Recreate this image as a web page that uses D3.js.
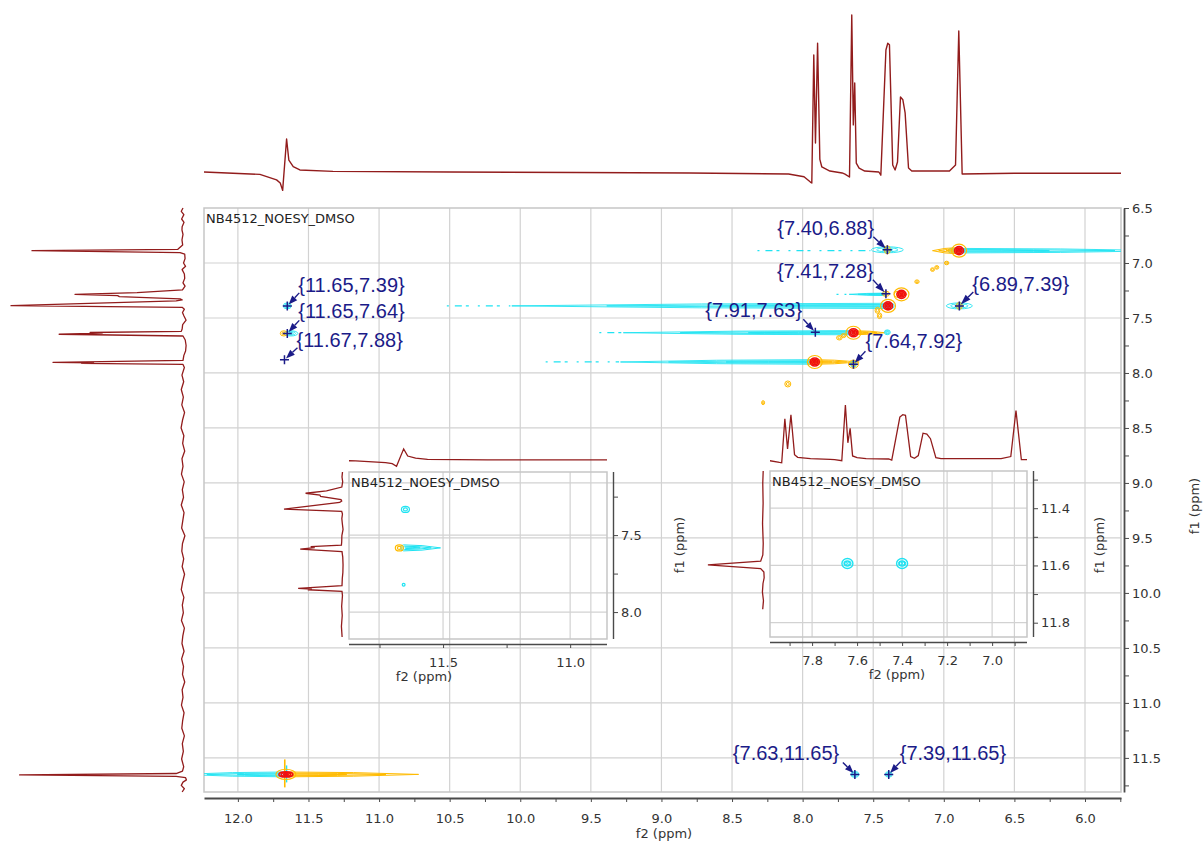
<!DOCTYPE html>
<html>
<head>
<meta charset="utf-8">
<script src="https://cdn.jsdelivr.net/npm/d3@7"></script>
<style>
  body { margin: 0; background: #fff; }
  svg { display: block; }
</style>
</head>
<body>
<svg id="chart" width="1204" height="841"></svg>
<script>
// ---------------- data ----------------
const title = "NB4512_NOESY_DMSO";

// axis ticks (ppm)
const f2Ticks = d3.range(0, 26).map(i => +(12.0 - i * 0.25).toFixed(2));   // 12.00 ... 5.75
const f2Majors = [12.0, 11.5, 11.0, 10.5, 10.0, 9.5, 9.0, 8.5, 8.0, 7.5, 7.0, 6.5, 6.0];
const f1Ticks = d3.range(0, 22).map(i => +(6.5 + i * 0.25).toFixed(2));    // 6.50 ... 11.75
const f1Majors = [6.5, 7.0, 7.5, 8.0, 8.5, 9.0, 9.5, 10.0, 10.5, 11.0, 11.5];

// 1D projection along f2 (top): [ppm, intensity]
const f2Trace = [
  [12.24, 0], [11.844, -1.5], [11.726, -5], [11.70, -7], [11.683, -11.7], [11.655, 21],
  [11.639, 7.5], [11.608, 3.4], [11.561, 1.3], [11.327, 0.4], [10.5, 0], [9.6, -0.3],
  [8.8, -0.6], [8.10, -1.3], [7.99, -3], [7.945, -6.4], [7.935, -7], [7.921, 74.5],
  [7.909, 18.5], [7.894, 82], [7.878, 8], [7.864, 3.2], [7.807, 0.6], [7.72, -0.6],
  [7.70, -1.3], [7.668, -3.2], [7.652, 100], [7.641, 30], [7.631, 56.7], [7.62, 5.7],
  [7.60, 2.5], [7.56, 0.6], [7.46, 0], [7.446, -2], [7.41, 77.7], [7.397, 82], [7.385, 81],
  [7.362, 4.5], [7.345, 1.3], [7.328, 6.4], [7.307, 47.8], [7.29, 46], [7.274, 37.6],
  [7.25, 2.5], [7.227, 0.6], [6.96, 0.6], [6.917, 4.5], [6.894, 89.8], [6.87, -1.3],
  [6.5, -0.8], [5.745, -0.8]
];

// 1D projection along f1 (left): [ppm, intensity]
const f1Trace = [
  [6.50, 0], [6.53, 1], [6.56, -0.5], [6.60, 0.8], [6.63, -0.6], [6.67, 0.5], [6.70, 0.6],
  [6.74, 0.0], [6.79, 0.6], [6.836, 0.2], [6.876, 3], [6.888, 87.8], [6.906, 1.7], [6.92, -1],
  [6.96, -1.2], [7.0, -0.3], [7.03, -1.5], [7.06, 0.5], [7.10, -0.8], [7.14, -1], [7.18, 0],
  [7.21, -1.2], [7.245, 0.3], [7.27, 26.7], [7.285, 62.8], [7.297, 38], [7.306, 37],
  [7.327, 1.7], [7.336, 0.5], [7.345, 4], [7.388, 100], [7.403, 0.5], [7.42, -0.8],
  [7.45, 0.3], [7.48, -0.5], [7.52, -1.8], [7.56, 0.2], [7.60, 0.5], [7.622, 1],
  [7.632, 54], [7.638, 47], [7.648, 72], [7.664, 0], [7.70, -1.3], [7.75, -1.8],
  [7.80, -1.5], [7.84, -0.5], [7.886, 0], [7.903, 75.6], [7.908, 52], [7.912, 59],
  [7.922, 0], [7.95, -0.8], [8.02, 0.6], [8.08, -0.4], [8.15, 1.0], [8.22, -0.2],
  [8.29, 0.7], [8.36, -0.9], [8.43, 0.3], [8.50, 1.1], [8.57, -0.5], [8.64, 0.2],
  [8.71, -1.0], [8.78, 0.6], [8.85, 0.0], [8.92, 0.9], [8.99, -0.7], [9.06, 0.4],
  [9.13, -0.3], [9.20, 1.0], [9.27, -0.6], [9.34, 0.1], [9.41, 0.8], [9.48, -1.1],
  [9.55, 0.3], [9.62, 0.7], [9.69, -0.4], [9.76, 0.5], [9.83, -0.9], [9.90, 0.2],
  [9.97, 1.0], [10.04, -0.5], [10.11, 0.4], [10.18, -0.2], [10.25, 0.9], [10.32, -0.8],
  [10.39, 0.1], [10.46, 0.6], [10.53, -0.6], [10.60, 0.8], [10.67, -0.3], [10.74, 0.3],
  [10.81, -1.0], [10.88, 0.5], [10.95, 0.0], [11.02, 0.9], [11.09, -0.6], [11.16, 0.2],
  [11.23, 0.7], [11.30, -0.8], [11.37, 0.4], [11.44, -0.2], [11.51, 0.8], [11.58, -0.4],
  [11.62, 0.3], [11.642, 4], [11.655, 95], [11.668, 4], [11.68, -1.5], [11.70, -2],
  [11.72, 0], [11.75, 1], [11.78, -0.8], [11.81, 0.5]
];

// annotated cross peaks {f2,f1}
const peakF2 = [7.40, 7.41, 6.89, 7.91, 7.64, 11.65, 11.65, 11.67, 7.63, 7.39];
const peakF1 = [6.88, 7.28, 7.39, 7.63, 7.92, 7.39, 7.64, 7.88, 11.65, 11.65];

// diagonal peaks
const diagF2 = [6.892, 7.300, 7.395, 7.640, 7.914, 11.660];
const diagF1 = [6.888, 7.285, 7.390, 7.634, 7.900, 11.650];

// negative (cyan) t1 ridges: row f1, far end f2, peak-side end f2
const ridgeF1   = [6.888, 7.285, 7.390, 7.634, 7.900, 11.650];
const ridgeFar  = [5.40, 7.67, 10.06, 9.27, 9.29, 12.40];
const ridgeNear = [6.95, 7.42, 7.37, 7.66, 7.93, 11.68];

// faint broken continuation of the ridges
const dashF1   = [6.888, 7.285, 7.390, 7.634, 7.900];
const dashFrom = [8.32, 7.76, 10.52, 9.44, 9.82];
const dashTo   = [7.52, 7.69, 10.07, 9.27, 9.30];

// positive (orange) t1 tails
const tailF1   = [6.888, 7.634, 7.900, 11.650, 7.285];
const tailFrom = [6.905, 7.63, 7.95, 11.645, 7.33];
const tailTo   = [7.08, 7.42, 7.60, 10.72, 7.26];

// negative cross-peak contours
const negF2 = [7.40, 6.89, 11.65, 11.625, 7.63, 7.39, 7.40, 7.64];
const negF1 = [6.88, 7.39, 7.39, 7.64, 11.65, 11.65, 7.63, 7.92];

// small positive contours
const posF2 = [7.40, 6.89, 7.64, 11.675, 7.19, 7.08, 7.05, 6.98, 7.74, 7.71, 7.47, 7.455, 8.105, 8.28, 7.41];
const posF1 = [6.88, 7.39, 7.92, 7.64, 7.17, 7.06, 7.04, 7.00, 7.68, 7.66, 7.43, 7.48, 8.10, 8.27, 7.28];

// zoom windows
const zoomF1Offset = 0.057;   // f1 referencing offset used by both zoom windows
const zoomA_f2Ticks = [11.75, 11.5, 11.25, 11.0];
const zoomA_f2Majors = [11.5, 11.0];
const zoomA_f1Ticks = [7.25, 7.5, 7.75, 8.0];
const zoomA_f1Majors = [7.5, 8.0];
const zoomA_negF2 = [11.648, 11.62, 11.655];
const zoomA_negF1 = [7.39, 7.64, 7.88];
const zoomA_posF2 = [11.672];
const zoomA_posF1 = [7.64];

const zoomB_f2Ticks = [7.9, 7.8, 7.7, 7.6, 7.5, 7.4, 7.3, 7.2, 7.1, 7.0, 6.9];
const zoomB_f2Majors = [7.8, 7.6, 7.4, 7.2, 7.0];
const zoomB_f1Ticks = [11.3, 11.4, 11.5, 11.6, 11.7, 11.8];
const zoomB_f1Majors = [11.4, 11.6, 11.8];
const zoomB_negF2 = [7.643, 7.40];
const zoomB_negF1 = [11.65, 11.65];

// ---------------- layout & style ----------------
const C = {
  trace: "#921c1c", grid: "#d2d2d2", frame: "#c6c6c6", axis: "#4a4a4a", text: "#333",
  cyan: "#1fe3f2", orange: "#ffbb00", red: "#f01010", navy: "#1b1b88"
};
const tickFont = "13px 'DejaVu Sans', Verdana, sans-serif";
const plot = { l: 204, r: 1121, t: 208, b: 792 };

const svg = d3.select("#chart");
const x = d3.scaleLinear().domain([12.24, 5.745]).range([plot.l, plot.r]);
const y = d3.scaleLinear().domain([6.5, 11.81]).range([plot.t, plot.b]);
const topY = d3.scaleLinear().domain([0, 100]).range([172, 15]);
const leftX = d3.scaleLinear().domain([0, 100]).range([183, 11]);

const defs = svg.append("defs");
function clip(id, x0, y0, w, h) {
  defs.append("clipPath").attr("id", id).append("rect").attr("x", x0).attr("y", y0).attr("width", w).attr("height", h);
  return `url(#${id})`;
}
const mainClip = clip("cMain", plot.l, plot.t, plot.r - plot.l, plot.b - plot.t);

// grid
const grid = svg.append("g");
grid.selectAll("line.v").data(f2Majors).join("line")
  .attr("x1", d => x(d)).attr("x2", d => x(d)).attr("y1", plot.t).attr("y2", plot.b)
  .attr("stroke", C.grid).attr("stroke-width", 1.2);
grid.selectAll("line.h").data(f1Majors.filter(d => d > 6.5)).join("line")
  .attr("y1", d => y(d)).attr("y2", d => y(d)).attr("x1", plot.l).attr("x2", plot.r)
  .attr("stroke", C.grid).attr("stroke-width", 1.2);
svg.append("rect").attr("x", plot.l).attr("y", plot.t).attr("width", plot.r - plot.l).attr("height", plot.b - plot.t)
  .attr("fill", "none").attr("stroke", C.frame).attr("stroke-width", 1.5);

svg.append("text").attr("x", plot.l + 2).attr("y", plot.t + 15).text(title)
  .style("font", tickFont).attr("fill", "#222");

// ---------------- 1D projections ----------------
svg.append("path").datum(f2Trace)
  .attr("d", d3.line().x(d => x(d[0])).y(d => topY(d[1])))
  .attr("fill", "none").attr("stroke", C.trace).attr("stroke-width", 1.4).attr("stroke-linejoin", "round");
svg.append("path").datum(f1Trace)
  .attr("d", d3.line().x(d => leftX(d[1])).y(d => y(d[0])))
  .attr("fill", "none").attr("stroke", C.trace).attr("stroke-width", 1.3).attr("stroke-linejoin", "round");

// ---------------- contour helpers ----------------
function lens(cy, xFar, xNear, h) {
  const sweep = xFar < xNear ? 1 : 0;
  const xm = xFar + (xNear - xFar) * 0.5;
  return `M${xFar},${cy} Q${xm},${cy - h} ${xNear},${cy - h} A${h},${h} 0 0 ${sweep} ${xNear},${cy + h} Q${xm},${cy + h} ${xFar},${cy} Z`;
}
function ridge(g, cy, xf, xn, h, color, sw) {
  const s = Math.sign(xn - xf);
  [[0, 0, 1], [0.25, 1, 0.55], [0.55, 2, 0.22]].forEach(([a, b, k]) => {
    g.append("path").attr("d", lens(cy, xf + (xn - xf) * a, xn - s * b, Math.max(h * k, 0.5)))
      .attr("fill", "none").attr("stroke", color).attr("stroke-width", sw);
  });
}
function rings(g, cx, cy, rx, ry, color, n, sw) {
  for (let i = 0; i < n; i++) {
    const k = 1 - i / n;
    g.append("ellipse").attr("cx", cx).attr("cy", cy).attr("rx", Math.max(rx * k, 0.8)).attr("ry", Math.max(ry * k, 0.8))
      .attr("fill", "none").attr("stroke", color).attr("stroke-width", sw);
  }
}

// ---------------- 2D contours ----------------
const cont = svg.append("g").attr("clip-path", mainClip);

const dashG = cont.append("g");
dashF1.forEach((r, i) => {
  dashG.append("line").attr("x1", x(dashFrom[i])).attr("x2", x(dashTo[i])).attr("y1", y(r)).attr("y2", y(r))
    .attr("stroke", C.cyan).attr("stroke-width", 1.2).attr("stroke-dasharray", "2,6,7,4,3,9");
});

const ridgeHalf = [2.3, 1.2, 2.6, 2.1, 2.3, 2.4];
ridgeF1.forEach((r, i) => ridge(cont, y(r), x(ridgeFar[i]), x(ridgeNear[i]), ridgeHalf[i], C.cyan, 0.9));

const tailHalf = [3.0, 2.0, 2.4, 2.4, 3.0];
tailF1.forEach((r, i) => ridge(cont, y(r), x(tailTo[i]), x(tailFrom[i]), tailHalf[i], C.orange, 1));

const negRx = [16, 13, 4, 7, 4, 3.5, 3, 3];
const negRy = [3.0, 3.0, 3, 2.6, 3, 2.8, 2.4, 3];
negF2.forEach((f, i) => rings(cont, x(f), y(negF1[i]), negRx[i], negRy[i], C.cyan, 3, 0.9));

const posRx = [3.0, 3.0, 5, 3.5, 2.2, 2.0, 2.0, 2.2, 2.8, 2.4, 2.4, 2.2, 3, 1.5, 3.5];
const posRy = [4.0, 3.5, 4.0, 2.6, 1.8, 1.8, 1.8, 1.8, 2.2, 2.0, 3.0, 2.8, 3, 2, 2.6];
posF2.forEach((f, i) => rings(cont, x(f), y(posF1[i]), posRx[i], posRy[i], C.orange, 2, 1));

// vertical t2 streak through the 11.65 diagonal peak
cont.append("line").attr("x1", x(11.668)).attr("x2", x(11.668)).attr("y1", y(11.65) - 15).attr("y2", y(11.65) + 13)
  .attr("stroke", C.orange).attr("stroke-width", 1.6);
cont.append("line").attr("x1", x(11.655)).attr("x2", x(11.655)).attr("y1", y(11.65) - 9).attr("y2", y(11.65) + 8)
  .attr("stroke", C.cyan).attr("stroke-width", 1.4);

// diagonal peaks: orange halo + dense red core
const diagRx = [4.5, 4.5, 4.5, 4.5, 4.5, 7];
const diagRy = [4.0, 4.0, 4.0, 4.0, 4.0, 2.6];
diagF2.forEach((f, i) => {
  const cx = x(f), cy = y(diagF1[i]);
  rings(cont, cx, cy, diagRx[i] + 3, diagRy[i] + 2.5, C.orange, 1, 1.1);
  rings(cont, cx, cy, diagRx[i], diagRy[i], C.red, 3, 1.6);
  cont.append("ellipse").attr("cx", cx).attr("cy", cy).attr("rx", 1).attr("ry", 1).attr("fill", C.red);
});

// ---------------- annotations ----------------
const labelDx = [-110, -109, 13, -110, 12, 11, 11, 12, -122, 11];
const labelDy = [-15, -16, -15, -15, -16, -14, -15, -13, -14, -14];
const arrowSx = [-14, -13, 14, -12, 12, 12, 12, 13, -12, 12];
const arrowSy = [-13, -14, -14, -13, -13, -13, -13, -12, -12, -13];

const ann = svg.append("g");
peakF2.forEach((f, i) => {
  const px = x(f), py = y(peakF1[i]);
  const sx = px + arrowSx[i], sy = py + arrowSy[i];
  const dx = px - sx, dy = py - sy, len = Math.hypot(dx, dy);
  const ux = dx / len, uy = dy / len, nx = -uy, ny = ux;
  const bx = px - ux * len * 0.62, by = py - uy * len * 0.62;
  ann.append("line").attr("x1", sx).attr("y1", sy).attr("x2", bx).attr("y2", by)
    .attr("stroke", C.navy).attr("stroke-width", 1.4);
  ann.append("path")
    .attr("d", `M${px - ux * 2},${py - uy * 2} L${bx + nx * 3.4},${by + ny * 3.4} L${bx - nx * 3.4},${by - ny * 3.4} Z`)
    .attr("fill", C.navy);
  ann.append("path").attr("d", `M${px - 4.5},${py} H${px + 4.5} M${px},${py - 4.5} V${py + 4.5}`)
    .attr("stroke", C.navy).attr("stroke-width", 1.5);
  ann.append("text").attr("x", px + labelDx[i]).attr("y", py + labelDy[i])
    .text(`{${f.toFixed(2)},${peakF1[i].toFixed(2)}}`)
    .attr("fill", C.navy).style("font", "20px 'Liberation Sans', Arial, sans-serif");
});

// ---------------- axes ----------------
function styleAxis(g, sw) {
  g.select(".domain").attr("stroke", C.axis).attr("stroke-width", sw);
  g.selectAll(".tick line").attr("stroke", C.axis).attr("stroke-width", 1);
  g.selectAll(".tick text").attr("fill", C.text).style("font", tickFont);
}
const fmt = majors => d => majors.some(m => Math.abs(m - d) < 1e-6) ? d.toFixed(1) : "";

svg.append("g").attr("transform", "translate(0,798)")
  .call(d3.axisBottom(x).tickValues(f2Ticks).tickFormat(fmt(f2Majors)).tickSize(4).tickSizeOuter(0).tickPadding(12))
  .call(g => styleAxis(g, 1.8));
svg.append("g").attr("transform", "translate(1124,0)")
  .call(d3.axisRight(y).tickValues(f1Ticks).tickFormat(fmt(f1Majors)).tickSize(5).tickSizeOuter(0).tickPadding(3))
  .call(g => styleAxis(g, 1.8));

svg.append("text").attr("x", 664).attr("y", 838).attr("text-anchor", "middle").text("f2 (ppm)")
  .style("font", tickFont).attr("fill", C.text);
svg.append("text").attr("transform", "translate(1199,506) rotate(-90)").attr("text-anchor", "middle").text("f1 (ppm)")
  .style("font", tickFont).attr("fill", C.text);

// ---------------- zoom windows ----------------
function zoomWindow(o) {
  const g = svg.append("g");
  const zx = d3.scaleLinear().domain(o.f2Domain).range([o.l, o.r]);
  const zy = d3.scaleLinear().domain(o.f1Domain).range([o.t, o.b]);
  const zyData = v => zy(v - zoomF1Offset);
  const cid = clip(o.id + "P", o.l, o.t, o.r - o.l, o.b - o.t);

  g.selectAll("line.v").data(o.f2Majors).join("line")
    .attr("x1", d => zx(d)).attr("x2", d => zx(d)).attr("y1", o.t).attr("y2", o.b)
    .attr("stroke", C.grid).attr("stroke-width", 1.2);
  g.selectAll("line.h").data(o.f1Majors).join("line")
    .attr("y1", d => zy(d)).attr("y2", d => zy(d)).attr("x1", o.l).attr("x2", o.r)
    .attr("stroke", C.grid).attr("stroke-width", 1.2);
  g.append("rect").attr("x", o.l).attr("y", o.t).attr("width", o.r - o.l).attr("height", o.b - o.t)
    .attr("fill", "none").attr("stroke", C.frame).attr("stroke-width", 1.5);
  g.append("text").attr("x", o.l + 2).attr("y", o.t + 15).text(title).style("font", tickFont).attr("fill", "#222");

  // projections
  const tY = d3.scaleLinear().domain([0, 100]).range([o.topBase, o.topBase - o.topGain]);
  const lX = d3.scaleLinear().domain([0, 100]).range([o.leftBase, o.leftBase - o.leftGain]);
  g.append("path").datum(f2Trace).attr("clip-path", clip(o.id + "T", o.l, 380, o.r - o.l, 100))
    .attr("d", d3.line().x(d => zx(d[0])).y(d => tY(d[1])))
    .attr("fill", "none").attr("stroke", C.trace).attr("stroke-width", 1.3);
  g.append("path").datum(f1Trace).attr("clip-path", clip(o.id + "L", o.leftBase - 90, o.t, 100, o.b - o.t - 2))
    .attr("d", d3.line().x(d => lX(d[1])).y(d => zyData(d[0])))
    .attr("fill", "none").attr("stroke", C.trace).attr("stroke-width", 1.3);

  const cg = g.append("g").attr("clip-path", cid);
  o.draw(cg, zx, zyData);

  g.append("g").attr("transform", `translate(0,${o.b + 5})`)
    .call(d3.axisBottom(zx).tickValues(o.f2Ticks).tickFormat(fmt(o.f2Majors)).tickSize(4).tickSizeOuter(0).tickPadding(10))
    .call(a => styleAxis(a, 1.4))
    .call(a => a.select(".domain").attr("d", `M${o.l},0.5H${o.r}`));
  g.append("g").attr("transform", `translate(${o.r + 6},0)`)
    .call(d3.axisRight(zy).tickValues(o.f1Ticks).tickFormat(fmt(o.f1Majors)).tickSize(5).tickSizeOuter(0).tickPadding(3))
    .call(a => styleAxis(a, 1.4))
    .call(a => a.select(".domain").attr("d", `M0.5,${o.t}V${o.b}`));
  g.append("text").attr("x", o.f2LabelX).attr("y", o.b + 42).attr("text-anchor", "middle").text("f2 (ppm)")
    .style("font", tickFont).attr("fill", C.text);
  g.append("text").attr("transform", `translate(${o.f1LabelX},545) rotate(-90)`).attr("text-anchor", "middle").text("f1 (ppm)")
    .style("font", tickFont).attr("fill", C.text);
}

zoomWindow({
  id: "zA", l: 349, r: 607, t: 472, b: 639,
  f2Domain: [11.87, 10.855], f1Domain: [7.09, 8.175],
  f2Ticks: zoomA_f2Ticks, f2Majors: zoomA_f2Majors, f1Ticks: zoomA_f1Ticks, f1Majors: zoomA_f1Majors,
  topBase: 460, topGain: 53, leftBase: 342, leftGain: 58,
  f2LabelX: 424, f1LabelX: 684,
  draw(g, zx, zy) {
    zoomA_negF2.forEach((f, i) => {
      if (i === 1) ridge(g, zy(zoomA_negF1[i]), zx(11.51), zx(11.655), 3.0, C.cyan, 1);
      else rings(g, zx(f), zy(zoomA_negF1[i]), i === 0 ? 4 : 1.4, i === 0 ? 3 : 1.4, C.cyan, i === 0 ? 2 : 1, 1.2);
    });
    zoomA_posF2.forEach((f, i) => rings(g, zx(f), zy(zoomA_posF1[i]), 4, 3, C.orange, 2, 1.2));
  }
});

zoomWindow({
  id: "zB", l: 770, r: 1027, t: 471, b: 637,
  f2Domain: [7.987, 6.845], f1Domain: [11.27, 11.85],
  f2Ticks: zoomB_f2Ticks, f2Majors: zoomB_f2Majors, f1Ticks: zoomB_f1Ticks, f1Majors: zoomB_f1Majors,
  topBase: 459, topGain: 54, leftBase: 763, leftGain: 58,
  f2LabelX: 897, f1LabelX: 1104,
  draw(g, zx, zy) {
    zoomB_negF2.forEach((f, i) => {
      const cx = zx(f), cy = zy(zoomB_negF1[i]);
      rings(g, cx, cy, 5.5, 5, C.cyan, 2, 1.4);
      g.append("ellipse").attr("cx", cx - 2).attr("cy", cy).attr("rx", 1.6).attr("ry", 2).attr("fill", "none").attr("stroke", C.cyan);
      g.append("ellipse").attr("cx", cx + 2).attr("cy", cy).attr("rx", 1.6).attr("ry", 2).attr("fill", "none").attr("stroke", C.cyan);
    });
  }
});
</script>
</body>
</html>
